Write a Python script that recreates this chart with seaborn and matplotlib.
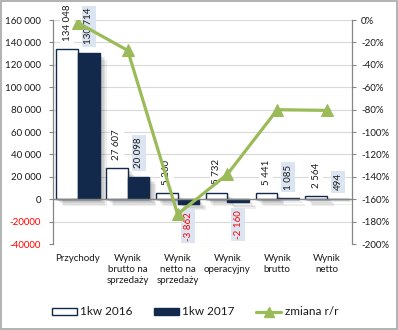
import matplotlib
matplotlib.use("Agg")
import matplotlib.pyplot as plt
import matplotlib.patheffects as pe
from matplotlib.patches import Patch, Rectangle
from matplotlib.lines import Line2D
import numpy as np
import pandas as pd
import seaborn as sns

# --- data -------------------------------------------------------------
categories = [
    "Przychody",
    "Wynik\nbrutto na\nsprzedaży",
    "Wynik\nnetto na\nsprzedaży",
    "Wynik\noperacyjny",
    "Wynik\nbrutto",
    "Wynik\nnetto",
]
q1_2016 = [134048, 27607, 5260, 5732, 5441, 2564]
q1_2017 = [130714, 20098, -3862, -2160, 1085, 494]
change_pct = [-2.5, -27.2, -173.4, -137.7, -80.1, -80.7]   # zmiana r/r, %
series_names = ["1kw 2016", "1kw 2017"]
line_name = "zmiana r/r"
left_ticks = [-40000, -20000, 0, 20000, 40000, 60000, 80000, 100000, 120000, 140000, 160000]
right_ticks = [-200, -180, -160, -140, -120, -100, -80, -60, -40, -20, 0]

# --- style ------------------------------------------------------------
NAVY = "#13294b"
GREEN = "#9bbb59"
GRID = "#d9d9d9"
AXIS = "#868686"
LABEL_BG = "#dbe5f1"
TEXT = "#1a1a1a"

sns.set_theme(style="white")
plt.rcParams["font.family"] = ["Lato", "DejaVu Sans"]


def fmt(v):
    return f"{v:,}".replace(",", " ")


def fmt_axis(v):
    return fmt(v) if v >= 0 else f"{v}"


df = pd.DataFrame({
    "kategoria": categories * 2,
    "wartosc": q1_2016 + q1_2017,
    "okres": [series_names[0]] * len(categories) + [series_names[1]] * len(categories),
})

fig = plt.figure(figsize=(3.98, 3.30), dpi=100)
ax = fig.add_axes([53 / 398, 1 - 244 / 330, (352 - 53) / 398, (244 - 20) / 330])

sns.barplot(
    data=df, x="kategoria", y="wartosc", hue="okres",
    palette=["white", NAVY], saturation=1, width=0.87,
    edgecolor=NAVY, linewidth=1.0, errorbar=None, legend=False, ax=ax,
)

shadow = [
    pe.SimplePatchShadow(offset=(k, -k), shadow_rgbFace="#404040", alpha=0.09)
    for k in (1.0, 2.0, 3.0, 4.0, 5.0)
] + [pe.Normal()]
for cont in ax.containers:
    for bar in cont:
        bar.set_path_effects(shadow)

# value labels
for cont, vals, bg in zip(ax.containers, [q1_2016, q1_2017], ["white", LABEL_BG]):
    for bar, v in zip(cont, vals):
        xc = bar.get_x() + bar.get_width() / 2
        pos = v >= 0
        ax.annotate(
            fmt(v), (xc, v), xytext=(0, 6 if pos else -6), textcoords="offset points",
            rotation=90, ha="center", va="bottom" if pos else "top",
            fontsize=7, color=TEXT if pos else "#ff0000",
            bbox=dict(boxstyle="square,pad=0.25", fc=bg, ec="none"),
            zorder=5, annotation_clip=False,
        )

ax.axhline(0, color=AXIS, lw=1.0, zorder=3)
ax.set_ylim(-40000, 160000)
ax.set_yticks(left_ticks)
ax.set_yticklabels([fmt_axis(v) for v in left_ticks])
for lab, v in zip(ax.get_yticklabels(), left_ticks):
    lab.set_color("#ff0000" if v < 0 else TEXT)
ax.set_xlim(-0.5, len(categories) - 0.5)
ax.set_xlabel("")
ax.set_ylabel("")
ax.yaxis.grid(True, color=GRID, lw=0.8)
ax.set_axisbelow(True)
ax.tick_params(axis="y", length=3, width=0.8, color=AXIS, labelsize=7, pad=5.5, left=True)
ax.tick_params(axis="x", length=0, labelsize=7, pad=7, labelcolor=TEXT)
for lab in ax.get_xticklabels():
    lab.set_linespacing(1.3)
for s in ("top", "bottom", "right"):
    ax.spines[s].set_visible(False)
ax.spines["left"].set_color(AXIS)
ax.spines["left"].set_linewidth(0.9)

# year-over-year change on the secondary axis
ax2 = ax.twinx()
sns.lineplot(
    x=np.arange(len(categories)), y=change_pct, ax=ax2, color=GREEN, lw=2.3,
    marker="^", markersize=8, markeredgecolor=GREEN, zorder=6,
)
ax2.set_ylim(-200, 0)
ax2.set_yticks(right_ticks)
ax2.set_yticklabels([f"{v}%" for v in right_ticks])
ax2.tick_params(axis="y", length=3, width=0.8, color=AXIS, labelsize=7, pad=3.5,
                labelcolor=TEXT, right=True)
ax2.set_xlim(-0.5, len(categories) - 0.5)
ax2.grid(False)
ax2.set_ylabel("")
for s in ("top", "bottom", "left"):
    ax2.spines[s].set_visible(False)
ax2.spines["right"].set_color(AXIS)
ax2.spines["right"].set_linewidth(0.9)

handles = [
    Patch(facecolor="white", edgecolor=NAVY, linewidth=1.0),
    Patch(facecolor=NAVY, edgecolor=NAVY),
    Line2D([0], [0], color=GREEN, lw=2.3, marker="^", markersize=7),
]
fig.legend(
    handles, series_names + [line_name], loc="center", bbox_to_anchor=(0.49, 0.055),
    ncol=3, frameon=False, fontsize=8.5, handlelength=2.1, handleheight=0.5,
    handletextpad=0.3, columnspacing=1.8, labelcolor=TEXT,
)

fig.patches.append(Rectangle((0.0015, 0.002), 0.996, 0.995, transform=fig.transFigure,
                             fill=False, edgecolor="#a6a6a6", lw=1.2))

fig.savefig("out.png", dpi=100)
